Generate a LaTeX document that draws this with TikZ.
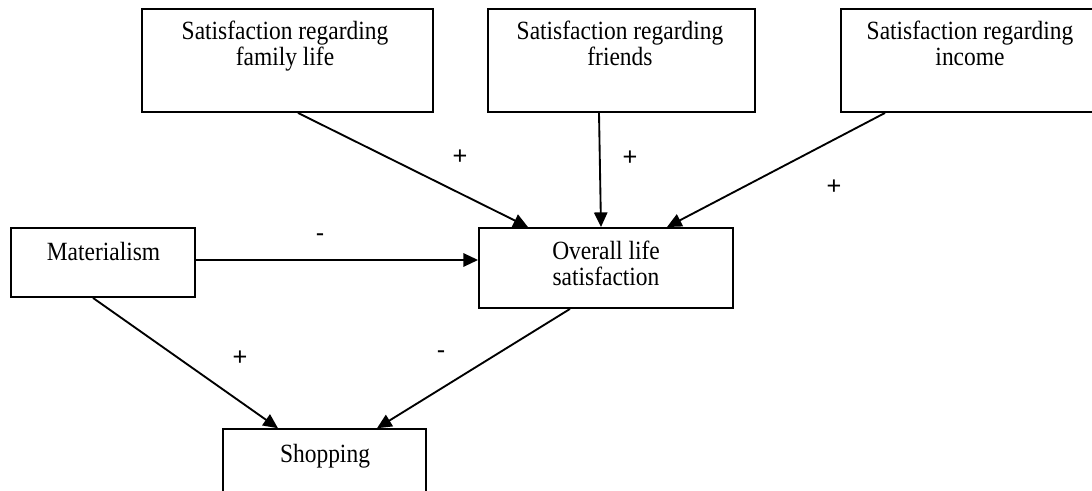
\documentclass[tikz,border=0pt]{standalone}
\usepackage{fontspec}
\usepackage{graphicx}
\setmainfont{Liberation Serif}
\newfontfamily\signfont{Liberation Sans}
\usetikzlibrary{arrows.meta}
\newcommand{\vtext}[1]{\scalebox{1}[1.12]{\begin{tabular}{@{}c@{}}#1\end{tabular}}}
\begin{document}
\begin{tikzpicture}[x=0.75pt,y=-0.75pt,
  box/.style={draw,line width=1.4pt,rectangle,inner sep=0pt},
  txt/.style={align=center,font=\fontsize{17.6}{17.2}\selectfont,inner sep=0pt},
  sign/.style={font=\signfont\fontsize{19}{20}\selectfont,inner sep=0pt},
  arr/.style={line width=1.4pt,-{Triangle[length=11pt,width=10pt]}}]
\useasboundingbox (0,0) rectangle (1092,491);
\node[box,minimum width=218.25pt,minimum height=77.25pt] (fam) at (287.5,60.5) {};
\node[box,minimum width=200.25pt,minimum height=77.25pt] (fri) at (621.5,60.5) {};
\node[box,minimum width=194.25pt,minimum height=77.25pt] (inc) at (970.5,60.5) {};
\node[box,minimum width=138pt,minimum height=51.75pt] (mat) at (103,262.5) {};
\node[box,minimum width=190.5pt,minimum height=60pt] (ovr) at (606,268) {};
\node[box,minimum width=152.25pt,minimum height=53pt] (sho) at (324.5,464.5) {};
\node[txt] (famt) at (285,47) {\vtext{Satisfaction regarding\\family life}};
\node[txt] (frit) at (620,47) {\vtext{Satisfaction regarding\\friends}};
\node[txt] (inct) at (970,47) {\vtext{Satisfaction regarding\\income}};
\node[txt] (matt) at (103.5,255) {\vtext{Materialism}};
\node[txt] (ovrt) at (606,267) {\vtext{Overall life\\satisfaction}};
\node[txt] (shot) at (325,457) {\vtext{Shopping}};
\draw[arr] ([shift={(10.5,0)}]fam.south) -- ([shift={(-78,0)}]ovr.north);
\draw[arr] ([shift={(-22.5,0)}]fri.south) -- ([shift={(-5,0)}]ovr.north);
\draw[arr] ([shift={(-85.5,0)}]inc.south) -- ([shift={(61,0)}]ovr.north);
\draw[arr] ([shift={(0,-2.5)}]mat.east) -- ([shift={(0,-8)}]ovr.west);
\draw[arr] ([shift={(-10,0)}]mat.south) -- ([shift={(-46.5,0)}]sho.north);
\draw[arr] ([shift={(-36,0)}]ovr.south) -- ([shift={(52.5,0)}]sho.north);
\node[sign] (s1) at (460,157) {+};
\node[sign] (s2) at (630,158) {+};
\node[sign] (s3) at (834,187) {+};
\node[sign] (s4) at (320,238) {-};
\node[sign] (s5) at (240,358) {+};
\node[sign] (s6) at (441,355) {-};
\end{tikzpicture}
\end{document}
